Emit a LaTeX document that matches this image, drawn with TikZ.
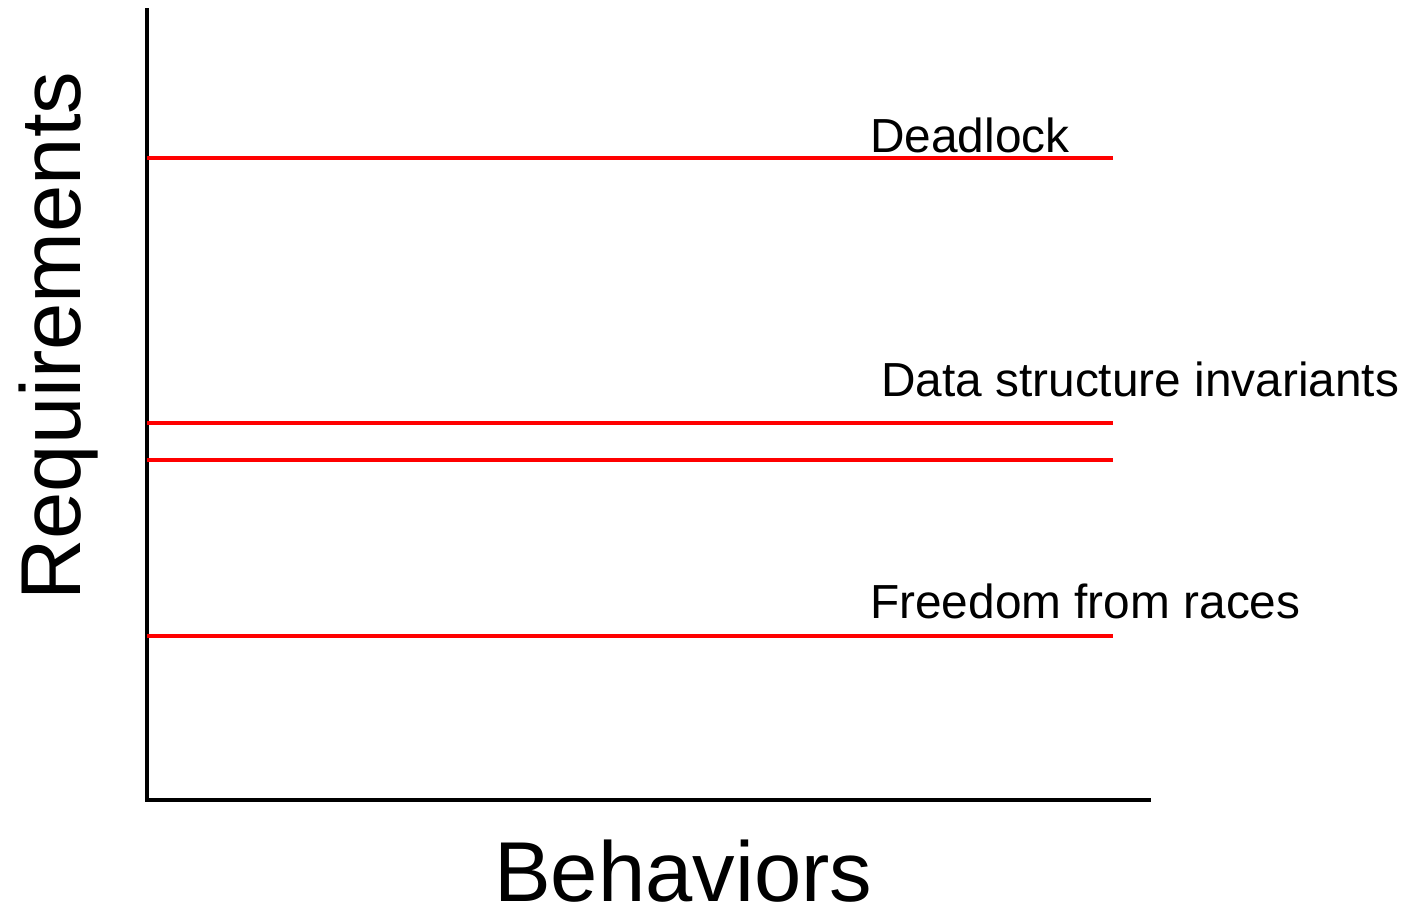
\documentclass[tikz,border=0pt]{standalone}
\usepackage{fontspec}
\setmainfont{Liberation Sans}
\begin{document}
\begin{tikzpicture}[x=1pt,y=-1pt,
  axis/.style={line width=4pt,black},
  req/.style={line width=4pt,red},
  lbl/.style={anchor=base west,inner sep=0pt,font=\fontsize{47.8}{54}\selectfont},
  big/.style={inner sep=0pt,font=\fontsize{85}{90}\selectfont}]
\useasboundingbox (0,0) rectangle (1404,910);
\coordinate (top) at (147,8);
\coordinate (origin) at (147,800);
\coordinate (xend) at (1151,800);
\draw[axis] (top) -- (origin) -- (xend);
\foreach \y/\n in {158/a,423/b,460/c,636/d}{
  \coordinate (\n l) at (147,\y);
  \coordinate (\n r) at (1113,\y);
  \draw[req] (\n l) -- (\n r);
}
\node[lbl] (dl) at (870,152) {Deadlock};
\node[lbl] (ds) at (881,396) {Data structure invariants};
\node[lbl] (fr) at (870,618) {Freedom from races};
\node[big,anchor=base west] (beh) at (494,901) {Behaviors};
\node[big,anchor=base west,rotate=90] (rq) at (80,601) {Requirements};
\end{tikzpicture}
\end{document}
